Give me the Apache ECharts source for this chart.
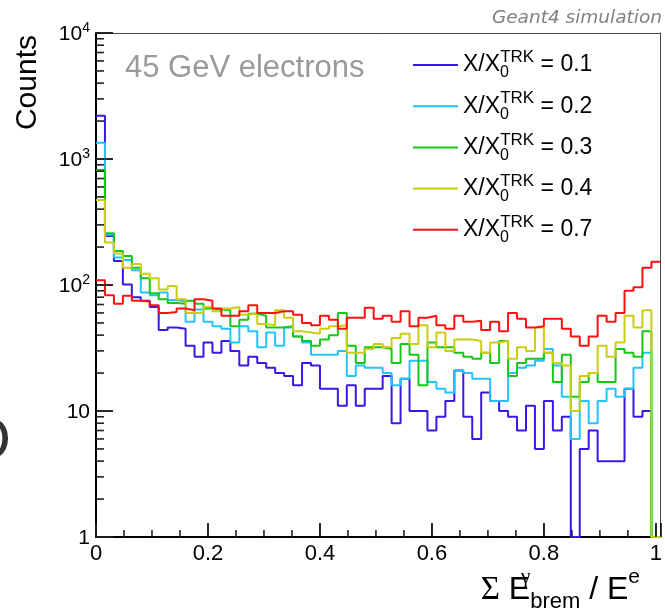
<!DOCTYPE html>
<html>
<head>
<meta charset="utf-8">
<script src="https://cdn.jsdelivr.net/npm/echarts@6/dist/echarts.min.js"></script>
<style>html,body{margin:0;padding:0;background:#fff}#c{width:665px;height:612px}</style>
</head>
<body>
<div id="c"></div>
<script>
// Histogram binning: 63 bins of width 0.016 starting at 0
const BIN_WIDTH = 0.016;
const N_BINS = 63;
const X_MAX = 1.008;
const Y_MIN = 1, Y_MAX = 10000;

const seriesNames = ['0.1', '0.2', '0.3', '0.4', '0.7'];
const seriesColors = ['#3a16e8', '#22c4ff', '#16c816', '#cccc10', '#ff1010'];

const counts01 = [2207,245,155,101,80,75,67,44,46,45,33,27,35,29,36,30,23,27,24,22,20,19,16,24,23,15,15,11,16,11,15,15,19,8,18,10,10,7,9,12,21,9,6,14,12,10,9,7,11,5,12,7,9,0,5,7,4,4,4,15,9,10,0];
const counts02 = [1347,250,165,158,131,87,83,87,76,74,51,64,51,47,45,35,47,43,32,42,33,46,39,35,28,28,28,30,19,23,22,22,20,16,18,25,25,17,15,14,21,20,18,18,12,12,20,22,23,25,31,23,13,6,12,8,12,15,13,15,22,29,0];
const counts03 = [818,257,186,170,137,113,86,77,72,71,75,71,65,64,63,47,53,59,57,46,46,47,39,36,33,37,40,60,33,24,32,32,31,24,34,28,16,35,32,32,29,27,26,29,24,36,19,24,26,26,29,17,28,13,17,20,17,17,31,29,27,43,0];
const counts04 = [473,217,178,137,147,123,113,92,98,77,60,60,67,62,65,67,58,60,49,48,63,55,43,42,41,45,47,48,29,29,31,34,32,38,41,34,48,32,42,30,37,37,36,29,35,36,26,32,30,46,29,24,23,10,19,20,33,27,35,57,46,63,0];
const counts07 = [109,83,71,82,75,74,69,60,61,65,63,77,75,65,57,57,62,69,60,60,62,62,58,50,48,57,53,45,55,55,66,54,57,51,62,47,55,57,48,45,57,51,52,44,51,43,60,54,46,47,54,54,45,39,33,39,57,51,60,90,96,137,153];

const allCounts = [counts01, counts02, counts03, counts04, counts07];

const xMajorTicks = [0, 0.2, 0.4, 0.6, 0.8, 1];
const xTickLabels = ['0', '0.2', '0.4', '0.6', '0.8', '1'];
const yDecades = [1, 10, 100, 1000];

function stepData(vals) {
  const d = vals.map((v, i) => [i * BIN_WIDTH, Math.max(v, Y_MIN)]);
  d.push([N_BINS * BIN_WIDTH, Math.max(vals[vals.length - 1], Y_MIN)]);
  return d;
}

const xMinor = [];
for (let i = 0; i < xMajorTicks.length - 1; i++) {
  for (let k = 1; k < 4; k++) xMinor.push(xMajorTicks[i] + k * 0.05);
}
const yMinor = [];
yDecades.forEach(d => { for (let m = 2; m <= 9; m++) yMinor.push(m * d); });
const yMajor = yDecades.concat([Y_MAX]);

const FONT = '"Liberation Sans", Arial, sans-serif';

const series = seriesNames.map((n, i) => ({
  name: n,
  type: 'line',
  step: 'end',
  data: stepData(allCounts[i]),
  showSymbol: false,
  symbol: 'none',
  lineStyle: { width: 2, color: seriesColors[i] },
  itemStyle: { color: seriesColors[i] },
  z: 3 + i,
  animation: false
}));

const textGraphics = [
  { type: 'text', x: 662, y: 18, style: { text: 'Geant4 simulation', font: 'italic 18.5px "DejaVu Sans"', fill: '#808080', align: 'right', verticalAlign: 'middle' } },
  { type: 'text', x: 125, y: 68, style: { text: '45 GeV electrons', font: '31px ' + FONT, fill: '#9a9a9a', align: 'left', verticalAlign: 'middle' } },
  { type: 'text', x: 28, y: 35, rotation: Math.PI / 2, style: { text: 'Counts', font: '30px ' + FONT, fill: '#000', align: 'right', verticalAlign: 'middle' } },
  { type: 'text', x: 11, y: 442, style: { text: 'O', font: '60px ' + FONT, fill: '#333', align: 'right', verticalAlign: 'middle' } },
  { type: 'text', x: 640, y: 613, style: {
      text: '{s|Σ}{m| E}{g|  γ}{sub|brem}{m| / E}{sup|e}',
      align: 'right', verticalAlign: 'bottom',
      rich: {
        s: { font: '33px "Liberation Serif"', fill: '#000', lineHeight: 46, verticalAlign: 'middle' },
        m: { font: '32px ' + FONT, fill: '#000', lineHeight: 46, verticalAlign: 'middle' },
        g: { font: '21px "Liberation Serif"', fill: '#000', lineHeight: 22, width: 0.1, verticalAlign: 'top' },
        sub: { font: '22px ' + FONT, fill: '#000', lineHeight: 18, verticalAlign: 'bottom' },
        sup: { font: '21px ' + FONT, fill: '#000', lineHeight: 24, verticalAlign: 'top' }
      }
    } }
];

const chart = echarts.init(document.getElementById('c'));
chart.setOption({
  animation: false,
  backgroundColor: '#fff',
  grid: { left: 96, top: 33, width: 567.5, height: 504, show: false, containLabel: false },
  xAxis: [{
    type: 'value', min: 0, max: X_MAX, interval: 0.2, position: 'bottom',
    axisLine: { show: true, onZero: false, lineStyle: { color: '#000', width: 2 } },
    axisTick: { show: true, inside: true, length: 14, lineStyle: { color: '#000', width: 1.5 } },
    splitLine: { show: false },
    axisLabel: {
      fontSize: 22, color: '#000', fontFamily: FONT, margin: 6,
      formatter: function (v) {
        const idx = xMajorTicks.findIndex(t => Math.abs(t - v) < 1e-6);
        return idx >= 0 ? xTickLabels[idx] : '';
      }
    }
  }, {
    type: 'value', min: 0, max: X_MAX, position: 'top',
    axisLine: { show: true, onZero: false, lineStyle: { color: '#444', width: 1 } },
    axisTick: { show: false }, axisLabel: { show: false }, splitLine: { show: false }
  }],
  yAxis: [{
    type: 'log', logBase: 10, min: Y_MIN, max: Y_MAX, position: 'left',
    axisLine: { show: true, onZero: false, lineStyle: { color: '#000', width: 2 } },
    axisTick: { show: true, inside: true, length: 17, lineStyle: { color: '#000', width: 1.5 } },
    splitLine: { show: false },
    axisLabel: {
      fontSize: 21, color: '#000', fontFamily: FONT, margin: 6,
      formatter: function (v) {
        if (v < 50) return '{b|' + Math.round(v) + '}';
        return '{b|10}{e|' + Math.round(Math.log10(v)) + '}';
      },
      rich: {
        b: { fontSize: 21, fontFamily: FONT, color: '#000', lineHeight: 24, verticalAlign: 'bottom' },
        e: { fontSize: 14, fontFamily: FONT, color: '#000', lineHeight: 14, verticalAlign: 'top' }
      }
    }
  }, {
    type: 'log', logBase: 10, min: Y_MIN, max: Y_MAX, position: 'right',
    axisLine: { show: true, onZero: false, lineStyle: { color: '#444', width: 1 } },
    axisTick: { show: false }, axisLabel: { show: false }, splitLine: { show: false }
  }],
  legend: {
    data: seriesNames,
    orient: 'vertical',
    left: 413, top: 49, padding: 0,
    itemWidth: 45, itemHeight: 2, itemGap: 9.2,
    icon: 'rect',
    selectedMode: false,
    formatter: function (n) { return '{m|X/X}{sub|0}{sup|TRK}{m| = ' + n + '}'; },
    textStyle: {
      fontSize: 23, fontFamily: FONT, color: '#000',
      rich: {
        m: { fontSize: 23, fontFamily: FONT, color: '#000', lineHeight: 32, verticalAlign: 'middle' },
        sub: { fontSize: 16, fontFamily: FONT, color: '#000', lineHeight: 16, width: 0.1, verticalAlign: 'bottom' },
        sup: { fontSize: 17, fontFamily: FONT, color: '#000', lineHeight: 20, verticalAlign: 'top' }
      }
    }
  },
  series: series
});

// Tick marks (inside the frame) as thin filled rects placed through the chart's own scales
const tickEls = [];
function addX(v, len) {
  const p = chart.convertToPixel({ xAxisIndex: 0, yAxisIndex: 0 }, [v, Y_MIN]);
  if (!p || !isFinite(p[0])) return;
  tickEls.push({ type: 'rect', z: 50, shape: { x: p[0] - 0.8, y: p[1] - len, width: 1.6, height: len }, style: { fill: '#222' } });
}
function addY(v, len) {
  const p = chart.convertToPixel({ xAxisIndex: 0, yAxisIndex: 0 }, [0, v]);
  if (!p || !isFinite(p[1])) return;
  tickEls.push({ type: 'rect', z: 50, shape: { x: p[0], y: p[1] - 0.8, width: len, height: 1.6 }, style: { fill: '#222' } });
}
xMinor.forEach(v => addX(v, 7));
xMajorTicks.forEach(v => addX(v, 14));
yMinor.forEach(v => addY(v, 8));
yMajor.forEach(v => addY(v, 17));
chart.setOption({ graphic: { elements: textGraphics.concat(tickEls) } });
</script>
</body>
</html>
